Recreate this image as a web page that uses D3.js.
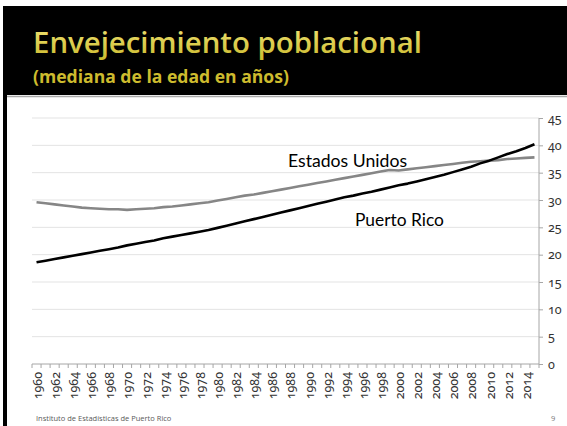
<!DOCTYPE html>
<html><head><meta charset="utf-8">
<script src="https://cdn.jsdelivr.net/npm/d3@7"></script>
<style>
html,body{margin:0;padding:0;background:#fff;}
svg{display:block;}
</style></head>
<body>
<svg id="c" width="567" height="426"></svg>
<script>
const years = [1960,1961,1962,1963,1964,1965,1966,1967,1968,1969,1970,1971,1972,1973,1974,1975,1976,1977,1978,1979,1980,1981,1982,1983,1984,1985,1986,1987,1988,1989,1990,1991,1992,1993,1994,1995,1996,1997,1998,1999,2000,2001,2002,2003,2004,2005,2006,2007,2008,2009,2010,2011,2012,2013,2014,2015];
const estadosUnidos = [29.6,29.4,29.2,29.0,28.8,28.6,28.5,28.4,28.3,28.3,28.2,28.3,28.4,28.5,28.7,28.8,29.0,29.2,29.4,29.6,29.9,30.2,30.5,30.8,31.0,31.3,31.6,31.9,32.2,32.5,32.8,33.1,33.4,33.7,34.0,34.3,34.6,34.9,35.2,35.5,35.4,35.6,35.8,36.0,36.2,36.4,36.6,36.8,37.0,37.1,37.2,37.3,37.5,37.6,37.7,37.8];
const puertoRico = [18.6,18.9,19.2,19.5,19.8,20.1,20.4,20.7,21.0,21.3,21.7,22.0,22.3,22.6,23.0,23.3,23.6,23.9,24.2,24.5,24.9,25.3,25.7,26.1,26.5,26.9,27.3,27.7,28.1,28.5,28.9,29.3,29.7,30.1,30.5,30.8,31.2,31.5,31.9,32.3,32.7,33.0,33.4,33.8,34.2,34.6,35.1,35.6,36.1,36.7,37.2,37.8,38.4,38.9,39.5,40.2];
const xTickLabels = [1960,1962,1964,1966,1968,1970,1972,1974,1976,1978,1980,1982,1984,1986,1988,1990,1992,1994,1996,1998,2000,2002,2004,2006,2008,2010,2012,2014];
const yTicks = [0,5,10,15,20,25,30,35,40,45];
const seriesNames = ["Estados Unidos","Puerto Rico"];
const titleText = "Envejecimiento poblacional";
const subtitleText = "(mediana de la edad en años)";
const footerText = "Instituto de Estadísticas de Puerto Rico";
const pageNumber = "9";

const svg = d3.select("#c");
const W = 567, H = 426;

// Slide background pieces
svg.append("rect").attr("x",3).attr("y",6).attr("width",W-3).attr("height",89).attr("fill","#000");
svg.append("rect").attr("x",3).attr("y",6).attr("width",4).attr("height",H-6).attr("fill","#000");
svg.append("line").attr("x1",7).attr("x2",W).attr("y1",96.5).attr("y2",96.5).attr("stroke","#a8a8a8").attr("stroke-width",1.5);

const defs = svg.append("defs");
const g1 = defs.append("linearGradient").attr("id","tg").attr("x1",0).attr("y1",0).attr("x2",0).attr("y2",1);
g1.append("stop").attr("offset","0%").attr("stop-color","#f3e67a");
g1.append("stop").attr("offset","100%").attr("stop-color","#c9b82a");

function fit(sel, target){
  let fs = parseFloat(sel.attr("font-size"));
  for(let i=0;i<4;i++){
    const w = sel.node().getComputedTextLength();
    if(w>0){ fs = fs*target/w; sel.attr("font-size",fs); }
  }
}

const title = svg.append("text").attr("x",33).attr("y",53).attr("font-family","'Open Sans', sans-serif")
  .attr("font-weight",600).attr("font-size",30).attr("fill","url(#tg)").text(titleText);
fit(title, 389);
const sub = svg.append("text").attr("x",33).attr("y",83).attr("font-family","'Open Sans', sans-serif")
  .attr("font-weight",700).attr("font-size",16).attr("fill","#cdbb2e").text(subtitleText);
fit(sub, 256);

// Chart
const x = d3.scaleBand().domain(years).range([32,539]).padding(0);
const y = d3.scaleLinear().domain([0,45]).range([364,118]);
const cx = d => x(d) + x.bandwidth()/2;

// gridlines
svg.append("g").selectAll("line").data(yTicks.filter(d=>d>0)).join("line")
  .attr("x1",32).attr("x2",539).attr("y1",d=>y(d)).attr("y2",d=>y(d))
  .attr("stroke","#e3e3e3").attr("stroke-width",1);

// right axis
const yAxis = d3.axisRight(y).tickValues(yTicks).tickSize(4).tickPadding(5);
const ya = svg.append("g").attr("transform","translate(539,0)").call(yAxis);
ya.select(".domain").attr("stroke","#a6a6a6").attr("d","M0,"+y(45)+"V"+y(0));
ya.selectAll(".tick line").attr("stroke","#a6a6a6");
ya.selectAll(".tick text").attr("font-family","'Noto Sans', sans-serif").attr("font-size",12.5)
  .style("font-feature-settings","'onum' 1").attr("fill","#333");

// bottom axis
const xa = svg.append("g").attr("transform","translate(0,364)");
xa.append("line").attr("x1",32).attr("x2",539).attr("y1",0).attr("y2",0).attr("stroke","#a6a6a6");
xa.selectAll("line.tk").data(years.concat([null])).join("line").attr("class","tk")
  .attr("x1",(d,i)=> i<years.length ? x(d) : x(years[years.length-1])+x.bandwidth())
  .attr("x2",(d,i)=> i<years.length ? x(d) : x(years[years.length-1])+x.bandwidth())
  .attr("y1",0).attr("y2",4).attr("stroke","#a6a6a6");
xa.selectAll("text").data(xTickLabels).join("text")
  .attr("transform",d=>`translate(${cx(d)+1},8) rotate(-90)`)
  .attr("text-anchor","end").attr("dy","0.35em")
  .attr("font-family","'Noto Sans', sans-serif").attr("font-size",12.5)
  .style("font-feature-settings","'onum' 1").attr("fill","#333").text(d=>d);

// lines
const line = d3.line().x((d,i)=>cx(years[i])).y(d=>y(d));
svg.append("path").datum(estadosUnidos).attr("d",line).attr("fill","none")
  .attr("stroke","#868686").attr("stroke-width",2.6).attr("stroke-linejoin","round");
svg.append("path").datum(puertoRico).attr("d",line).attr("fill","none")
  .attr("stroke","#000").attr("stroke-width",2.6).attr("stroke-linejoin","round");

// series labels
const l1 = svg.append("text").attr("x",288).attr("y",167).attr("font-family","Lato, sans-serif")
  .attr("font-size",16).attr("fill","#000").text(seriesNames[0]);
fit(l1, 119);
const l2 = svg.append("text").attr("x",355).attr("y",226).attr("font-family","Lato, sans-serif")
  .attr("font-size",16).attr("fill","#000").text(seriesNames[1]);
fit(l2, 89);

// footer
svg.append("text").attr("x",36).attr("y",421).attr("font-family","'Open Sans', sans-serif")
  .attr("font-size",7.5).attr("fill","#595959").text(footerText);
svg.append("text").attr("x",551).attr("y",421).attr("font-family","'Open Sans', sans-serif")
  .attr("font-size",7.5).attr("fill","#777").text(pageNumber);
</script>
</body></html>
